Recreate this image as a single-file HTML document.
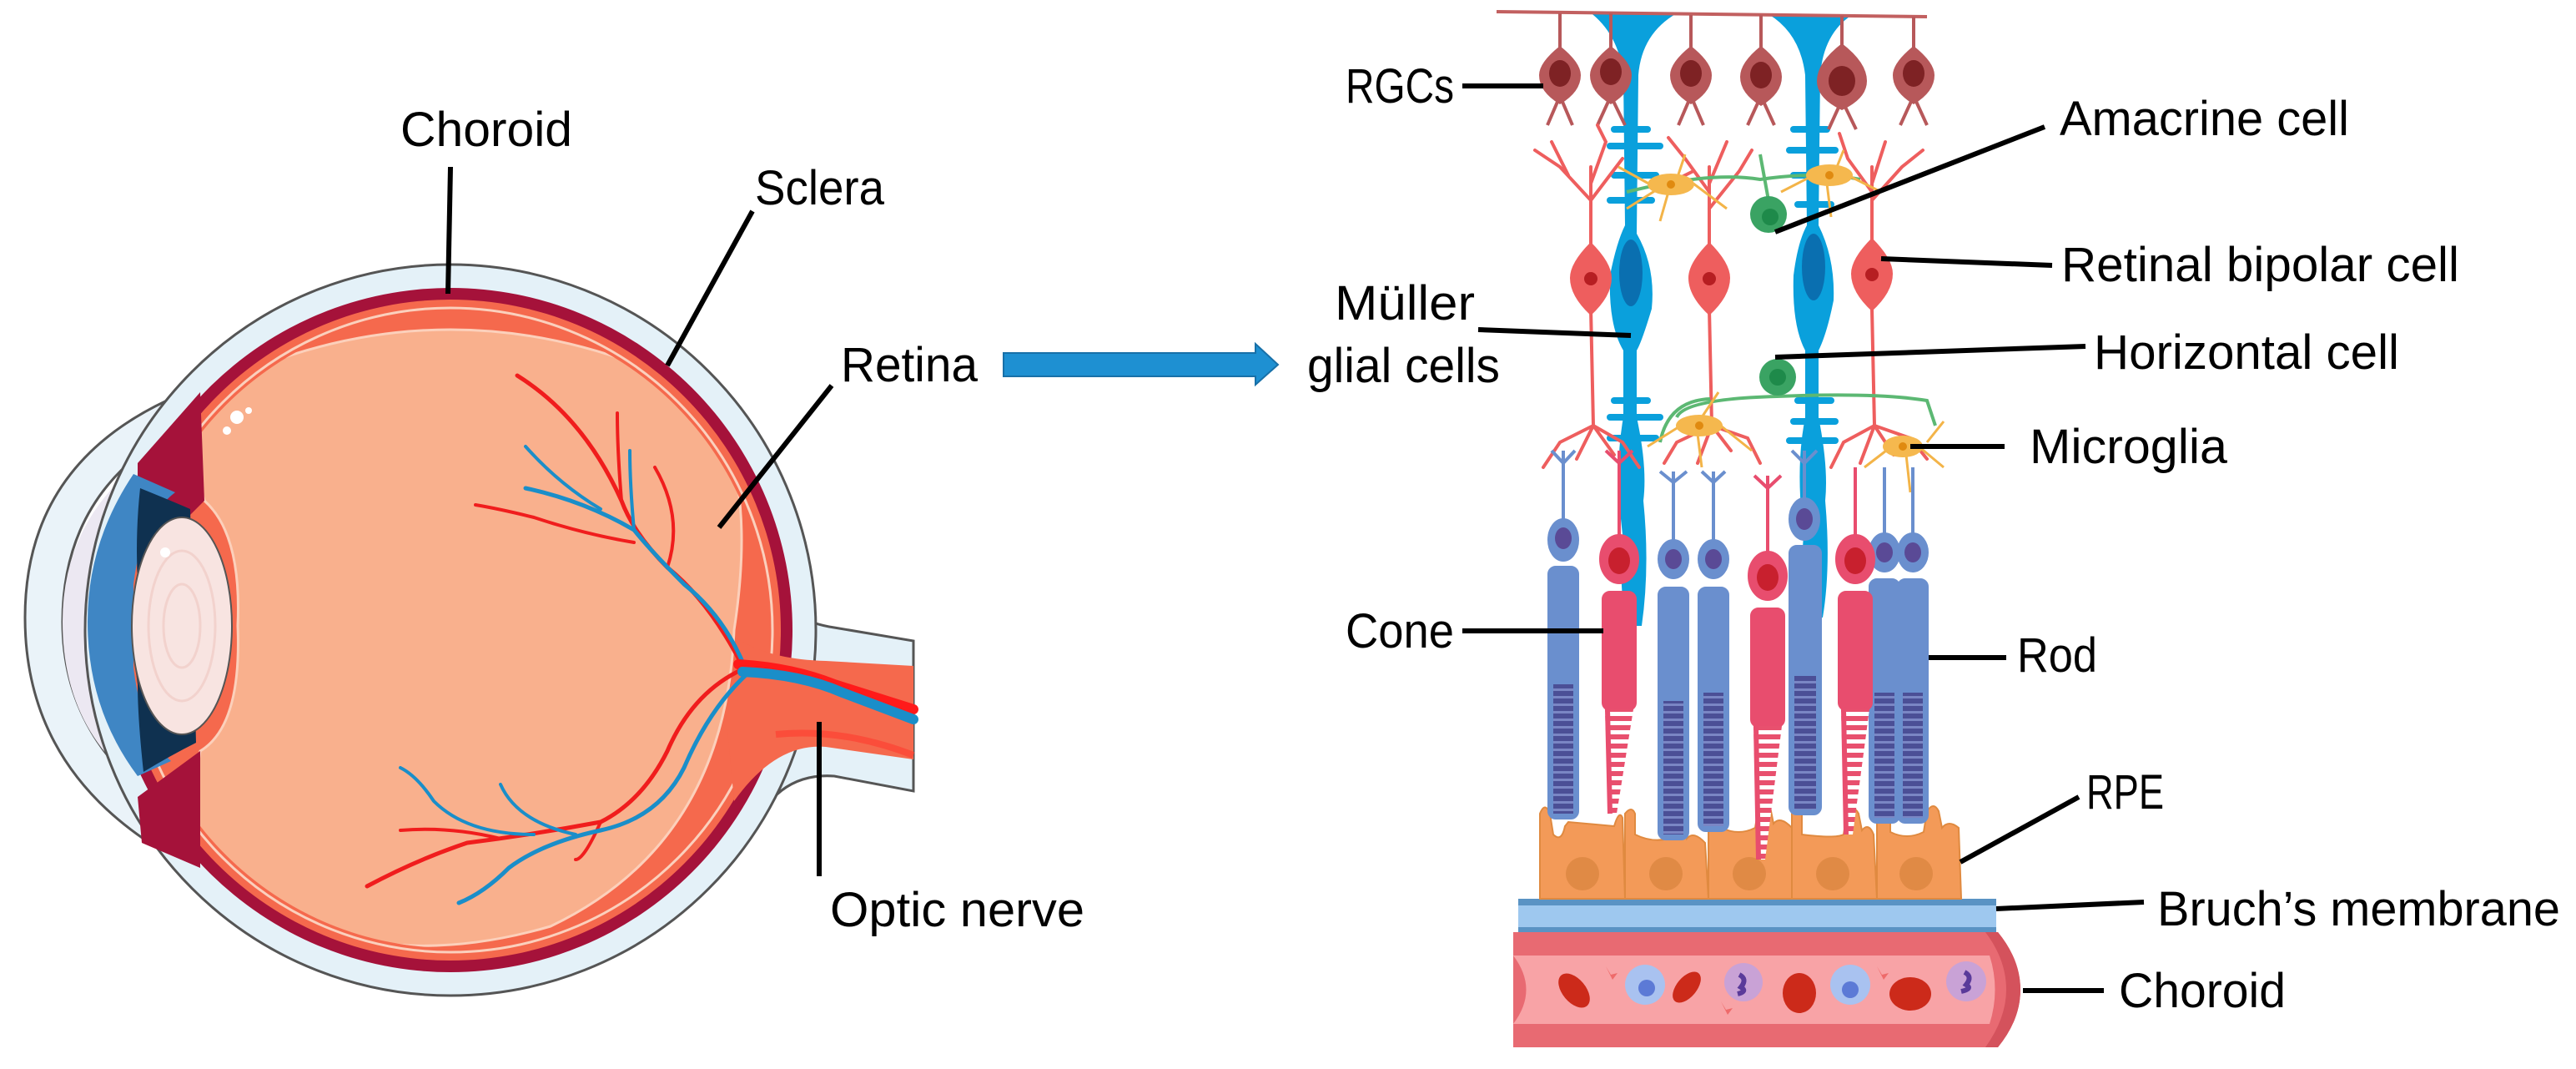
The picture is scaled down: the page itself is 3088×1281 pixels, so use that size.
<!DOCTYPE html>
<html><head><meta charset="utf-8"><style>html,body{margin:0;padding:0;background:#fff}svg{display:block}</style></head>
<body>
<svg width="3088" height="1281" viewBox="0 0 3088 1281" xmlns="http://www.w3.org/2000/svg">
<rect width="3088" height="1281" fill="#fff"/>
<defs>
<clipPath id="vit"><circle cx="540" cy="755" r="381"/></clipPath>
<pattern id="stripeB" width="10" height="9" patternUnits="userSpaceOnUse"><rect width="10" height="9" fill="#4b4f96"/><rect y="6" width="10" height="3" fill="#7a86c4"/></pattern>
<pattern id="stripeR" width="10" height="11" patternUnits="userSpaceOnUse"><rect width="10" height="11" fill="#fff"/><rect y="0" width="10" height="6" fill="#e8506e"/></pattern>
</defs>

<!-- ===== LEFT EYE ===== -->
<path d="M900 700 Q950 745 1000 752 L1095 768 L1095 948 L1000 930 Q930 925 900 1000 Z" fill="#e4f1f8" stroke="#555" stroke-width="3"/>
<path d="M200 480 Q30 560 30 740 Q30 920 195 1020 L230 990 Q75 900 75 745 Q75 580 230 505 Z" fill="#eaf3f9" stroke="#555" stroke-width="3"/>
<path d="M180 545 Q75 620 75 745 Q75 880 180 950 L200 930 Q110 860 108 745 Q110 630 195 565 Z" fill="#ece8f2"/>
<circle cx="540" cy="755" r="438" fill="#e4f1f8" stroke="#555" stroke-width="3"/>
<circle cx="540" cy="755" r="410" fill="#a5123a"/>
<circle cx="540" cy="755" r="396" fill="#f5694d"/>
<circle cx="540" cy="755" r="386" fill="none" stroke="#fbd0bd" stroke-width="3"/>
<path d="M860 745 Q900 790 990 792 L1095 798 L1095 910 L990 895 Q930 890 880 960 Z" fill="#f5694d"/>
<path d="M930 880 Q1010 872 1095 905" stroke="#ff3b2f" stroke-width="8" fill="none" opacity="0.6"/>
<g clip-path="url(#vit)">
<path d="M240 470 Q540 320 840 470 Q910 560 880 755 Q870 1010 660 1110 Q420 1180 240 1040 Q225 980 240 900 Q290 870 285 750 Q290 640 245 600 Q225 540 240 470 Z" fill="#f9b08d" stroke="#fcd0bb" stroke-width="3"/>
</g>
<path d="M165 555 L240 470 L245 600 Q225 620 220 625 L165 590 Z" fill="#a5123a"/>
<path d="M165 955 L240 900 L240 1040 L170 1010 Z" fill="#a5123a"/>
<path d="M160 568 Q105 650 105 745 Q105 850 165 930 L205 912 Q170 880 160 800 L160 700 Q170 620 210 590 Z" fill="#3f86c4"/>
<path d="M168 585 Q205 600 228 610 L235 890 Q205 905 172 925 Q165 860 165 820 Q155 760 165 700 Q162 640 168 585 Z" fill="#0f3150"/>
<ellipse cx="218" cy="750" rx="60" ry="130" fill="#f8e4e1" stroke="#555" stroke-width="2"/>
<ellipse cx="218" cy="750" rx="40" ry="90" fill="none" stroke="#f2d2cd" stroke-width="3"/>
<ellipse cx="218" cy="750" rx="22" ry="50" fill="none" stroke="#f2d2cd" stroke-width="3"/>
<circle cx="198" cy="662" r="6" fill="#fff"/>
<circle cx="284" cy="500" r="8" fill="#fff"/><circle cx="272" cy="516" r="5" fill="#fff"/><circle cx="298" cy="492" r="4" fill="#fff"/>
<g fill="none" stroke-linecap="round">
<path d="M890 798 Q850 720 800 680 Q760 640 745 600 Q700 500 620 450" stroke="#f01d1d" stroke-width="5"/>
<path d="M745 600 Q740 540 740 495" stroke="#f01d1d" stroke-width="4"/>
<path d="M800 680 Q820 620 785 560" stroke="#f01d1d" stroke-width="4"/>
<path d="M760 650 Q700 640 640 620 Q600 610 570 605" stroke="#f01d1d" stroke-width="4"/>
<path d="M895 805 Q870 740 820 700 Q780 660 760 635 Q700 600 630 585" stroke="#1a8ec9" stroke-width="5"/>
<path d="M760 635 Q755 580 755 540" stroke="#1a8ec9" stroke-width="4"/>
<path d="M720 610 Q670 580 630 535" stroke="#1a8ec9" stroke-width="4"/>
<path d="M890 802 Q830 830 800 900 Q770 960 720 985 Q640 1000 560 1010 Q500 1030 440 1062" stroke="#f01d1d" stroke-width="5"/>
<path d="M600 1005 Q540 990 480 995" stroke="#f01d1d" stroke-width="4"/>
<path d="M720 985 Q700 1030 690 1030" stroke="#f01d1d" stroke-width="4"/>
<path d="M895 808 Q850 850 820 920 Q790 980 720 995 Q650 1010 610 1040 Q580 1070 550 1082" stroke="#1a8ec9" stroke-width="5"/>
<path d="M690 1000 Q620 985 600 940" stroke="#1a8ec9" stroke-width="4"/>
<path d="M640 1000 Q560 1000 520 960 Q500 930 480 920" stroke="#1a8ec9" stroke-width="4"/>
<path d="M885 796 Q950 800 1000 820 L1095 850" stroke="#ff1a1a" stroke-width="12"/>
<path d="M890 805 Q960 808 1010 830 L1095 862" stroke="#1a8ec9" stroke-width="12"/>
</g>

<g stroke="#000" stroke-width="6" fill="none">
<line x1="540" y1="200" x2="537" y2="352"/>
<line x1="902" y1="253" x2="800" y2="438"/>
<line x1="997" y1="462" x2="862" y2="632"/>
<line x1="982" y1="865" x2="982" y2="1050"/>
</g>
<g font-family="'Liberation Sans', sans-serif" font-size="58" fill="#000">
<text x="480" y="175" textLength="206" lengthAdjust="spacingAndGlyphs">Choroid</text>
<text x="905" y="245" textLength="155" lengthAdjust="spacingAndGlyphs">Sclera</text>
<text x="1008" y="457" textLength="164" lengthAdjust="spacingAndGlyphs">Retina</text>
<text x="995" y="1110" textLength="305" lengthAdjust="spacingAndGlyphs">Optic nerve</text>
</g>
<path d="M1203 423 L1505 423 L1505 412 L1532 437 L1505 461 L1505 451 L1203 451 Z" fill="#1e90d2" stroke="#1870a8" stroke-width="2"/>

<!-- ===== RIGHT RETINA ===== -->
<path d="M1814 1117 L2395 1117 Q2422 1150 2422 1186 Q2422 1222 2395 1255 L1814 1255 Z" fill="#e86a72"/>
<path d="M2395 1117 Q2422 1150 2422 1186 Q2422 1222 2395 1255 L2380 1255 Q2405 1220 2405 1186 Q2405 1150 2380 1117 Z" fill="#d4525c"/>
<path d="M1814 1145 L2385 1145 Q2398 1186 2385 1227 L1814 1227 Q1845 1186 1814 1145 Z" fill="#f8a3a6"/>
<g>
<ellipse cx="1887" cy="1187" rx="14" ry="24" transform="rotate(-40 1887 1187)" fill="#cc2a1a"/>
<circle cx="1972" cy="1180" r="24" fill="#a9c2f0"/><circle cx="1974" cy="1184" r="10" fill="#5c7ad6"/>
<ellipse cx="2022" cy="1183" rx="12" ry="22" transform="rotate(40 2022 1183)" fill="#cc2a1a"/>
<circle cx="2090" cy="1177" r="23" fill="#c9a2d6"/><path d="M2085 1168 q10 5 2 15 q8 5 -4 8" stroke="#5a3a9a" stroke-width="6" fill="none"/>
<ellipse cx="2157" cy="1190" rx="20" ry="24" fill="#cc2a1a"/>
<circle cx="2218" cy="1180" r="24" fill="#a9c2f0"/><circle cx="2218" cy="1186" r="10" fill="#5c7ad6"/>
<ellipse cx="2290" cy="1191" rx="25" ry="20" fill="#cc2a1a"/>
<circle cx="2357" cy="1176" r="24" fill="#c9a2d6"/><path d="M2355 1165 q10 5 2 15 q8 5 -6 8" stroke="#5a3a9a" stroke-width="6" fill="none"/>
<path d="M1925 1158 l6 10 l8 -2 l-6 8 z" fill="#ee6a6a"/><path d="M2063 1200 l6 10 l8 -2 l-6 8 z" fill="#ee6a6a"/><path d="M2250 1158 l6 10 l8 -2 l-6 8 z" fill="#ee6a6a"/>
</g>
<rect x="1820" y="1077" width="573" height="40" fill="#9ec8ef"/>
<rect x="1820" y="1077" width="573" height="8" fill="#5a93c4"/>
<rect x="1820" y="1111" width="573" height="6" fill="#5a93c4"/>
<g fill="#f39a58" stroke="#e08a40" stroke-width="2">
<path d="M1846 1077 L1846 975 q6 -15 12 0 L1862 1000 q10 10 14 -10 L1880 985 L1935 990 q6 -20 10 -10 L1948 1077 Z"/>
<path d="M1948 1077 L1948 975 q8 -10 12 0 l0 25 q20 10 40 5 l4 -20 q10 -12 14 0 l4 20 q8 -10 22 5 L2048 1077 Z"/>
<path d="M2048 1077 L2048 970 q10 -12 16 0 l0 22 q20 10 40 0 l4 -25 q8 -12 14 0 l4 20 q8 -10 22 5 L2148 1077 Z"/>
<path d="M2148 1077 L2148 975 q6 -10 12 0 l0 25 q40 5 50 0 l4 -25 q8 -12 14 0 l4 20 q8 -10 14 5 L2250 1077 Z"/>
<path d="M2250 1077 L2250 975 q10 -12 16 0 l0 22 q20 10 40 0 l4 -25 q8 -12 14 0 l4 20 q8 -10 20 0 L2351 1077 Z"/>
</g>
<g fill="#e08a45"><circle cx="1897" cy="1047" r="20"/><circle cx="1997" cy="1047" r="20"/><circle cx="2097" cy="1047" r="20"/><circle cx="2197" cy="1047" r="20"/><circle cx="2297" cy="1047" r="20"/></g>

<g fill="#0aa0dc">
<path d="M1905 14 L2010 16 Q1968 40 1964 90 L1962 280 Q1985 320 1980 370 Q1968 410 1962 420 L1962 500 Q1975 560 1970 600 Q1978 680 1968 750 L1950 750 Q1940 700 1945 640 Q1935 560 1946 500 L1946 420 Q1928 390 1930 330 Q1938 290 1948 270 L1946 90 Q1940 40 1905 14 Z"/>
<path d="M2120 17 L2220 18 Q2186 40 2182 90 L2180 270 Q2200 310 2198 360 Q2190 400 2180 420 L2180 500 Q2192 560 2188 600 Q2195 680 2185 740 L2170 740 Q2158 690 2162 640 Q2152 560 2164 500 L2164 420 Q2148 390 2150 330 Q2155 290 2166 270 L2164 90 Q2158 40 2120 17 Z"/>
</g>
<ellipse cx="1955" cy="327" rx="14" ry="40" fill="#0a6fb0"/>
<ellipse cx="2174" cy="320" rx="14" ry="40" fill="#0a6fb0"/>
<g stroke="#0aa0dc" stroke-width="8" stroke-linecap="round">
<line x1="1935" y1="155" x2="1975" y2="155"/><line x1="1930" y1="175" x2="1990" y2="175"/><line x1="1935" y1="210" x2="1985" y2="210"/><line x1="1930" y1="240" x2="1980" y2="240"/>
<line x1="2150" y1="155" x2="2190" y2="155"/><line x1="2145" y1="180" x2="2200" y2="180"/><line x1="2150" y1="210" x2="2200" y2="210"/><line x1="2155" y1="245" x2="2195" y2="245"/>
<line x1="1935" y1="480" x2="1975" y2="480"/><line x1="1930" y1="500" x2="1990" y2="500"/><line x1="1930" y1="525" x2="1985" y2="525"/>
<line x1="2155" y1="480" x2="2195" y2="480"/><line x1="2150" y1="505" x2="2200" y2="505"/><line x1="2145" y1="528" x2="2200" y2="528"/>
</g>

<path d="M1794 14 L2310 20" stroke="#c26060" stroke-width="4" fill="none"/>
<g stroke="#b7585a" stroke-width="4" fill="none">
<path d="M1870 16 L1870 60 M1870 115 L1855 150 M1870 115 L1885 150"/>
<path d="M1931 16 L1931 60 M1931 115 L1915 150 M1931 115 L1948 150"/>
<path d="M2027 18 L2027 60 M2027 115 L2012 150 M2027 115 L2042 150"/>
<path d="M2111 18 L2111 60 M2111 115 L2095 150 M2111 115 L2127 150"/>
<path d="M2208 19 L2208 60 M2208 120 L2192 155 M2208 120 L2225 155"/>
<path d="M2294 20 L2294 60 M2294 115 L2278 150 M2294 115 L2310 150"/>
</g>
<g fill="#b7585a">
<path d="M1870 55 Q1895 75 1895 90 Q1895 110 1870 125 Q1845 110 1845 90 Q1845 75 1870 55 Z"/>
<path d="M1931 55 Q1956 75 1956 90 Q1956 110 1931 125 Q1906 110 1906 90 Q1906 75 1931 55 Z"/>
<path d="M2027 55 Q2052 75 2052 90 Q2052 110 2027 125 Q2002 110 2002 90 Q2002 75 2027 55 Z"/>
<path d="M2111 55 Q2136 75 2136 92 Q2136 112 2111 127 Q2086 112 2086 92 Q2086 75 2111 55 Z"/>
<path d="M2208 52 Q2238 75 2238 97 Q2238 118 2208 132 Q2178 118 2178 97 Q2178 75 2208 52 Z"/>
<path d="M2294 55 Q2319 75 2319 90 Q2319 110 2294 125 Q2269 110 2269 90 Q2269 75 2294 55 Z"/>
</g>
<g fill="#7e2224"><ellipse cx="1870" cy="88" rx="13" ry="16"/><ellipse cx="1931" cy="86" rx="13" ry="16"/><ellipse cx="2027" cy="88" rx="13" ry="16"/><ellipse cx="2111" cy="90" rx="13" ry="16"/><ellipse cx="2208" cy="97" rx="16" ry="18"/><ellipse cx="2294" cy="88" rx="13" ry="16"/></g>

<g stroke="#ee5e5e" stroke-width="4" fill="none" stroke-linecap="round">
<path d="M1907 300 L1907 200 M1907 240 L1870 200 L1840 180 M1880 210 L1860 170 M1907 220 L1925 170 L1915 150 M1907 240 L1945 190"/>
<path d="M1907 370 L1910 510 M1910 510 L1870 530 L1850 560 M1910 510 L1890 550 M1910 510 L1935 545 M1910 510 L1945 530 L1965 560"/>
<path d="M2049 300 L2049 200 M2049 230 L2020 190 L2000 165 M2049 220 L2070 170 M2049 250 L2085 205 L2100 180 M2030 205 L2010 215"/>
<path d="M2049 370 L2052 510 M2052 510 L2010 530 L1995 555 M2052 510 L2035 555 M2052 510 L2075 540 M2052 510 L2095 525 L2110 555"/>
<path d="M2244 300 L2244 200 M2244 230 L2215 190 L2205 160 M2244 220 L2260 170 M2244 240 L2280 200 L2305 180"/>
<path d="M2244 370 L2247 510 M2247 510 L2210 530 L2195 560 M2247 510 L2230 555 M2247 510 L2270 545 M2247 510 L2290 525 L2310 550"/>
</g>
<g fill="#ee5e5e">
<path d="M1907 290 Q1932 315 1932 333 Q1932 355 1907 378 Q1882 355 1882 333 Q1882 315 1907 290 Z"/>
<path d="M2049 290 Q2074 315 2074 333 Q2074 355 2049 378 Q2024 355 2024 333 Q2024 315 2049 290 Z"/>
<path d="M2244 285 Q2269 310 2269 328 Q2269 350 2244 373 Q2219 350 2219 328 Q2219 310 2244 285 Z"/>
</g>
<g fill="#b61e22"><circle cx="1907" cy="334" r="8"/><circle cx="2049" cy="334" r="8"/><circle cx="2244" cy="329" r="8"/></g>

<g stroke="#5cb873" stroke-width="4" fill="none">
<path d="M1950 230 Q2050 205 2110 215 Q2180 205 2230 215"/>
<path d="M2010 500 Q2020 478 2130 475 Q2250 470 2310 480 L2320 510"/>
<path d="M1990 530 Q2000 480 2050 478"/>
<path d="M2120 240 L2110 185"/>
</g>
<circle cx="2120" cy="257" r="22" fill="#3aa363"/><circle cx="2122" cy="260" r="10" fill="#1e8a4a"/>
<circle cx="2131" cy="452" r="22" fill="#3aa363"/><circle cx="2131" cy="452" r="10" fill="#1e8a4a"/>
<g stroke="#f3b448" stroke-width="3" fill="none">
<path d="M1980 222 L1940 200 M2030 220 L2070 250 M2000 230 L1990 265 M2010 215 L2020 185 M1985 228 L1950 250"/>
<path d="M2170 212 L2135 230 M2215 210 L2255 230 M2190 220 L2195 260 M2200 205 L2210 180"/>
<path d="M2015 510 L1975 535 M2060 508 L2100 540 M2035 520 L2040 560 M2040 500 L2060 470"/>
<path d="M2265 537 L2235 560 M2300 535 L2330 560 M2285 545 L2290 590 M2310 530 L2330 505"/>
</g>
<g fill="#f5b84e"><ellipse cx="2003" cy="221" rx="28" ry="13"/><ellipse cx="2193" cy="210" rx="28" ry="13"/><ellipse cx="2037" cy="510" rx="28" ry="13"/><ellipse cx="2281" cy="535" rx="24" ry="13"/></g>
<g fill="#e08a10"><circle cx="2003" cy="221" r="5"/><circle cx="2193" cy="210" r="5"/><circle cx="2037" cy="510" r="5"/><circle cx="2281" cy="535" r="5"/></g>

<g>
<g fill="#6a8fce" stroke="#6a8fce" stroke-width="4">
<line x1="1874" y1="540" x2="1874" y2="640"/><path d="M1860 540 L1874 555 L1888 540" fill="none"/>
<ellipse cx="1874" cy="647" rx="17" ry="24"/><rect x="1857" y="680" width="34" height="300" rx="8"/>
<line x1="2006" y1="565" x2="2006" y2="660"/><path d="M1990 565 L2006 578 L2022 565" fill="none"/>
<ellipse cx="2006" cy="670" rx="17" ry="22"/><rect x="1989" y="705" width="34" height="300" rx="8"/>
<line x1="2054" y1="565" x2="2054" y2="660"/><path d="M2040 565 L2054 578 L2068 565" fill="none"/>
<ellipse cx="2054" cy="670" rx="17" ry="22"/><rect x="2037" y="705" width="34" height="290" rx="8"/>
<line x1="2163" y1="540" x2="2163" y2="615"/><path d="M2148 540 L2163 555 L2178 540" fill="none"/>
<ellipse cx="2163" cy="622" rx="17" ry="24"/><rect x="2146" y="655" width="36" height="320" rx="8"/>
<line x1="2259" y1="560" x2="2259" y2="655"/><ellipse cx="2259" cy="662" rx="17" ry="22"/><rect x="2242" y="695" width="34" height="290" rx="8"/>
<line x1="2293" y1="560" x2="2293" y2="655"/><ellipse cx="2293" cy="662" rx="17" ry="22"/><rect x="2276" y="695" width="34" height="290" rx="8"/>
</g>
<g fill="#5a4a96"><ellipse cx="1874" cy="645" rx="10" ry="13"/><ellipse cx="2006" cy="670" rx="10" ry="12"/><ellipse cx="2054" cy="670" rx="10" ry="12"/><ellipse cx="2163" cy="622" rx="10" ry="13"/><ellipse cx="2259" cy="662" rx="10" ry="12"/><ellipse cx="2293" cy="662" rx="10" ry="12"/></g>
<g fill="url(#stripeB)"><rect x="1862" y="820" width="24" height="155"/><rect x="1994" y="840" width="24" height="160"/><rect x="2042" y="830" width="24" height="160"/><rect x="2151" y="810" width="26" height="160"/><rect x="2247" y="830" width="24" height="150"/><rect x="2281" y="830" width="24" height="150"/></g>
</g>
<g fill="#e84d6e" stroke="#e84d6e" stroke-width="4">
<line x1="1941" y1="540" x2="1941" y2="655"/><path d="M1925 540 L1941 555 L1957 540" fill="none"/>
<ellipse cx="1941" cy="670" rx="22" ry="28"/><rect x="1922" y="710" width="38" height="140" rx="8"/>
<line x1="2119" y1="570" x2="2119" y2="668"/><path d="M2103 570 L2119 585 L2135 570" fill="none"/>
<ellipse cx="2119" cy="690" rx="22" ry="28"/><rect x="2100" y="730" width="38" height="140" rx="8"/>
<line x1="2224" y1="560" x2="2224" y2="650"/><ellipse cx="2224" cy="670" rx="22" ry="28"/><rect x="2205" y="710" width="38" height="140" rx="8"/>
</g>
<g fill="#c8202e"><ellipse cx="1941" cy="672" rx="13" ry="16"/><ellipse cx="2119" cy="692" rx="13" ry="16"/><ellipse cx="2224" cy="672" rx="13" ry="16"/></g>
<g fill="url(#stripeR)">
<path d="M1924 850 L1958 850 L1938 975 L1928 975 Z"/>
<path d="M2102 870 L2136 870 L2116 1030 L2106 1030 Z"/>
<path d="M2207 850 L2241 850 L2221 1000 L2211 1000 Z"/>
</g>
<g stroke="#e84d6e" stroke-width="6"><line x1="1927" y1="850" x2="1930" y2="975"/><line x1="2105" y1="870" x2="2108" y2="1030"/><line x1="2210" y1="850" x2="2213" y2="1000"/></g>

<g stroke="#000" stroke-width="6" fill="none">
<line x1="1753" y1="103" x2="1850" y2="103"/>
<line x1="2451" y1="152" x2="2128" y2="278"/>
<line x1="2255" y1="310" x2="2460" y2="318"/>
<line x1="1772" y1="395" x2="1955" y2="402"/>
<line x1="2128" y1="428" x2="2500" y2="415"/>
<line x1="2290" y1="535" x2="2403" y2="535"/>
<line x1="1753" y1="756" x2="1922" y2="756"/>
<line x1="2312" y1="788" x2="2405" y2="788"/>
<line x1="2350" y1="1033" x2="2492" y2="955"/>
<line x1="2393" y1="1089" x2="2570" y2="1081"/>
<line x1="2425" y1="1187" x2="2522" y2="1187"/>
</g>
<g font-family="'Liberation Sans', sans-serif" font-size="58" fill="#000">
<text x="1613" y="123" textLength="130" lengthAdjust="spacingAndGlyphs">RGCs</text>
<text x="2469" y="162" textLength="347" lengthAdjust="spacingAndGlyphs">Amacrine cell</text>
<text x="2471" y="337" textLength="477" lengthAdjust="spacingAndGlyphs">Retinal bipolar cell</text>
<text x="1600" y="383" textLength="168" lengthAdjust="spacingAndGlyphs">Müller</text>
<text x="1567" y="458" textLength="231" lengthAdjust="spacingAndGlyphs">glial cells</text>
<text x="2510" y="442" textLength="366" lengthAdjust="spacingAndGlyphs">Horizontal cell</text>
<text x="2433" y="555" textLength="237" lengthAdjust="spacingAndGlyphs">Microglia</text>
<text x="1613" y="776" textLength="130" lengthAdjust="spacingAndGlyphs">Cone</text>
<text x="2418" y="805" textLength="96" lengthAdjust="spacingAndGlyphs">Rod</text>
<text x="2501" y="969" textLength="93" lengthAdjust="spacingAndGlyphs">RPE</text>
<text x="2586" y="1109" textLength="483" lengthAdjust="spacingAndGlyphs">Bruch’s membrane</text>
<text x="2540" y="1207" textLength="200" lengthAdjust="spacingAndGlyphs">Choroid</text>
</g>
</svg>
</body></html>
